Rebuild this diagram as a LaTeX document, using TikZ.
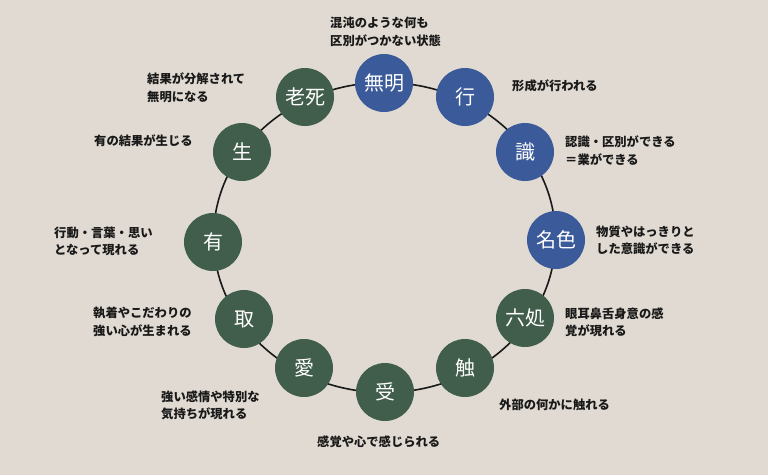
\documentclass[tikz,border=0pt]{standalone}
\usepackage{fontspec}
\newfontfamily\cjk{Noto Sans CJK JP}
\definecolor{bgc}{HTML}{E0DAD2}
\definecolor{blu}{HTML}{3B5A9A}
\definecolor{grn}{HTML}{405E4B}
\begin{document}
\begin{tikzpicture}[x=1pt,y=-1pt,
  stage/.style={circle,minimum size=58pt,inner sep=0pt,text=white,font=\cjk\fontsize{20}{22}\selectfont},
  bstage/.style={stage,fill=blu},
  gstage/.style={stage,fill=grn},
  lab/.style={anchor=west,align=left,inner sep=0pt,font=\cjk\bfseries\fontsize{12.3}{17.5}\selectfont,text=black!90}]
\fill[bgc] (0,0) rectangle (768,475);
\useasboundingbox (0,0) rectangle (768,475);
\draw[line width=1.6pt,black!90] (384.5,237.5) ellipse (171 and 155);
\node[bstage] (n1) at (384,83) {無明};
\node[bstage] (n2) at (465,97) {行};
\node[bstage] (n3) at (525,152) {識};
\node[bstage] (n4) at (556,240) {名色};
\node[gstage] (n5) at (525,318) {六処};
\node[gstage] (n6) at (465,368) {触};
\node[gstage] (n7) at (385,392) {受};
\node[gstage] (n8) at (304,368) {愛};
\node[gstage] (n9) at (244,319) {取};
\node[gstage] (n10) at (213,242) {有};
\node[gstage] (n11) at (242,152) {生};
\node[gstage] (n12) at (305,97) {老死};
\node[lab] (t1) at (330,32) {混沌のような何も\\区別がつかない状態};
\node[lab] (t2) at (512,86) {形成が行われる};
\node[lab] (t3) at (565,150.5) {認識・区別ができる\\＝業ができる};
\node[lab] (t4) at (596,240.5) {物質やはっきりと\\した意識ができる};
\node[lab] (t5) at (565,322.5) {眼耳鼻舌身意の感\\覚が現れる};
\node[lab] (t6) at (499,405) {外部の何かに触れる};
\node[lab] (t7) at (317,442) {感覚や心で感じられる};
\node[lab] (t8) at (161,405.5) {強い感情や特別な\\気持ちが現れる};
\node[lab] (t9) at (93,322) {執着やこだわりの\\強い心が生まれる};
\node[lab] (t10) at (54,241.5) {行動・言葉・思い\\となって現れる};
\node[lab] (t11) at (94,141) {有の結果が生じる};
\node[lab] (t12) at (147,87.5) {結果が分解されて\\無明になる};
\end{tikzpicture}
\end{document}
